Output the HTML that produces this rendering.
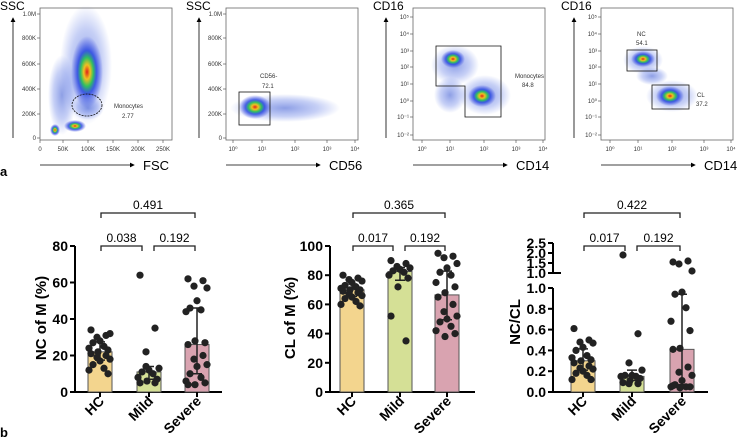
<!DOCTYPE html>
<html><head><meta charset="utf-8"><style>
body{margin:0;background:#fff;}
svg{display:block;font-family:"Liberation Sans",Arial,sans-serif;}
</style></head><body>
<svg id="fig" width="741" height="439" viewBox="0 0 741 439" xmlns="http://www.w3.org/2000/svg">
<defs>
<radialGradient id="dens" cx="50%" cy="50%" r="50%">
<stop offset="0" stop-color="#e0201a"/><stop offset="0.2" stop-color="#f0c020"/><stop offset="0.4" stop-color="#30c060"/><stop offset="0.6" stop-color="#2040e0" stop-opacity="0.8"/><stop offset="1" stop-color="#3040e0" stop-opacity="0"/>
</radialGradient>
<radialGradient id="sparse" cx="50%" cy="50%" r="50%">
<stop offset="0" stop-color="#3050d0" stop-opacity="0.55"/><stop offset="0.6" stop-color="#4060e0" stop-opacity="0.3"/><stop offset="1" stop-color="#4060e0" stop-opacity="0"/>
</radialGradient>
<marker id="arr" markerWidth="6" markerHeight="6" refX="5" refY="3" orient="auto"><path d="M0,0 L6,3 L0,6z" fill="#000"/></marker>
</defs>
<g id="topgrp" font-size="6" fill="#333"></g>
<g id="bottom"></g>
<text x="0" y="176" font-size="13" font-weight="bold">a</text>
<text x="0" y="437" font-size="13" font-weight="bold">b</text>
</svg>
<script>
// ---- bar chart data ----
const categories = ["HC","Mild","Severe"];
const ncHC = [34,31,30,32,28,27,25,24,23,22,21,20,19,18,17,15,13,12,10];
const ncMild = [64,35,22,13,12,11,10,8,7,6,5,5,14];
const ncSevere = [62,61,58,57,50,46,45,44,27,28,26,20,18,15,14,10,8,6,5,4,4];
const clHC = [80,78,77,76,75,73,72,71,70,70,69,68,67,66,65,64,62,60,59];
const clMild = [90,88,86,85,84,83,82,80,78,72,52,35];
const clSevere = [95,93,92,88,85,82,80,75,72,68,65,60,55,52,50,48,45,42,40,38];
const rHC = [0.61,0.50,0.48,0.47,0.43,0.40,0.35,0.33,0.31,0.30,0.28,0.25,0.23,0.22,0.20,0.18,0.16,0.12,0.12];
const rMild = [1.9,0.56,0.28,0.21,0.16,0.16,0.15,0.15,0.13,0.11,0.09,0.08,0.08];
const rSevere = [1.55,1.6,1.45,1.1,0.96,0.94,0.81,0.68,0.59,0.42,0.41,0.24,0.19,0.16,0.11,0.07,0.05,0.05,0.05,0.04,0.06];
const pNC = ["0.038","0.192","0.491"];
const pCL = ["0.017","0.192","0.365"];
const pR = ["0.017","0.192","0.422"];
const ticksNC = [0,20,40,60,80];
const ticksCL = [0,20,40,60,80,100];
const ticksR = [0,0.2,0.4,0.6,0.8,1.0];
const ticksRUp = [1.0,1.5,2.0,2.5];

const NS="http://www.w3.org/2000/svg";
function el(tag,attrs,parent,text){const e=document.createElementNS(NS,tag);for(const k in attrs)e.setAttribute(k,attrs[k]);if(text!==undefined)e.textContent=text;parent.appendChild(e);return e;}
const colors=["#f3d58e","#d5e096","#d9a3b0"];
const bottomG=document.getElementById('bottom');

function q(s,p){const i=(s.length-1)*p;const lo=Math.floor(i),hi=Math.ceil(i);return s[lo]+(s[hi]-s[lo])*(i-lo);}
function stats(a){const s=[...a].sort((x,y)=>x-y);return [q(s,0.5),q(s,0.25),q(s,0.75)];}

function barChart(o){
  const g=el('g',{},bottomG);
  
  
  const y=o.y;
  const ax=el('line',{x1:o.ax,x2:o.ax,y1:o.axTop,y2:392,stroke:'#000','stroke-width':2},g);
  
  
  const xa=el('line',{x1:o.ax,x2:o.axEnd,y1:392,y2:392,stroke:'#000','stroke-width':2},g);
  
  
  o.ticks.forEach(t=>{const ty=y(t);el('line',{x1:o.ax-5,x2:o.ax,y1:ty,y2:ty,stroke:'#000','stroke-width':2},g);
    const tl=el('text',{x:o.ax-7,y:ty+5,'text-anchor':'end','font-size':14,'font-weight':'bold'},g,o.fmt(t));
    
    });
  if(o.ticksUp){o.ticksUp.forEach(t=>{const ty=o.yUp(t);el('line',{x1:o.ax-5,x2:o.ax+(t==1?8:0),y1:ty,y2:ty,stroke:'#000','stroke-width':2},g);
    const tl=el('text',{x:o.ax-7,y:ty+5,'text-anchor':'end','font-size':14,'font-weight':'bold'},g,t.toFixed(1));
    
    });
    el('line',{x1:o.ax,x2:o.ax,y1:o.yUp(2.5),y2:o.yUp(1.0),stroke:'#000','stroke-width':2},g);}
  const yl=el('text',{transform:`translate(${o.ylx},${o.yly}) rotate(-90)`,'text-anchor':'middle','font-size':15,'font-weight':'bold'},g,o.ylabel);
  
  
  o.series.forEach((arr,i)=>{
    const cx=o.cx[i];const [m,lo,hi]=stats(arr);
    const b=el('rect',{x:cx-12,y:y(m),width:24,height:392-y(m),fill:colors[i],stroke:'#555','stroke-width':1},g);
    
    
    arr.forEach((v,j)=>{const off=[-9,6,-3,10,0,-7,4,-11,8,-2][j%10];const py=o.yAny(v);
      const d=el('circle',{cx:cx+off,cy:py,r:3.6,fill:'#222'},g);
      
      });
    const eb=el('path',{d:`M${cx},${o.yAny(lo)}V${o.yAny(hi)}M${cx-5},${o.yAny(hi)}H${cx+5}M${cx-5},${o.yAny(lo)}H${cx+5}`,stroke:'#222','stroke-width':1.5,fill:'none'},g);
    
    
    el('line',{x1:cx,x2:cx,y1:392,y2:397,stroke:'#000','stroke-width':2},g);
    const xl=el('text',{transform:`translate(${cx+5},${402}) rotate(-45)`,'text-anchor':'end','font-size':14,'font-weight':'bold'},g,categories[i]);
    
    
  });
  const br=[[o.cx[0]+1,o.cx[1]-7,246],[o.cx[1]+5,o.cx[2]-2,246],[o.cx[0]+1,o.cx[2]-2,213]];
  br.forEach((b,i)=>{const bg=el('path',{d:`M${b[0]},${b[2]+5}V${b[2]}H${b[1]}V${b[2]+5}`,stroke:'#222','stroke-width':1.3,fill:'none'},g);
    
    
    const t=el('text',{x:(b[0]+b[1])/2,y:b[2]-4,'text-anchor':'middle','font-size':12},g,o.p[i]);
    
    });
}
const yNC=v=>392-v*146/80;
barChart({name:'nc-of-m-chart',y:yNC,yAny:yNC,ax:75,axTop:246,axEnd:222,ticks:ticksNC,fmt:t=>String(t),ylabel:'NC of M (%)',ylx:46,yly:318,series:[ncHC,ncMild,ncSevere],cx:[100,149,197],p:pNC});
const yCL=v=>392-v*146/100;
barChart({name:'cl-of-m-chart',y:yCL,yAny:yCL,ax:330,axTop:246,axEnd:475,ticks:ticksCL,fmt:t=>String(t),ylabel:'CL of M (%)',ylx:295,yly:318,series:[clHC,clMild,clSevere],cx:[352,400,447],p:pCL});
const yR=v=>392-v*104;
const yRUp=v=>273-(v-1)*20;
barChart({name:'nc-cl-ratio-chart',y:yR,yUp:yRUp,yAny:v=>v>1.0?yRUp(v):yR(v),ax:553,axTop:288,axEnd:708,ticks:ticksR,ticksUp:ticksRUp,fmt:t=>t.toFixed(1),ylabel:'NC/CL',ylx:520,yly:322,series:[rHC,rMild,rSevere],cx:[583,632,682],p:pR});

// ---- flow plots ----
const topG=document.getElementById('topgrp');
function flow(o){
  const g=el('g',{},topG);
  
  
  const f=el('rect',{x:o.x,y:8,width:132,height:132,fill:'none',stroke:'#666','stroke-width':0.8},g);
  
  
  o.clouds.forEach(c=>{const e=el('ellipse',{cx:c[0],cy:c[1],rx:c[2],ry:c[3],fill:`url(#${c[4]})`},g);
    
    });
  o.yt.forEach(t=>{el('line',{x1:o.x-3,x2:o.x,y1:t[1],y2:t[1],stroke:'#444','stroke-width':0.6},g);
    el('text',{x:o.x-4,y:t[1]+2,'text-anchor':'end'},g,t[0]);});
  o.xt.forEach(t=>{el('line',{x1:t[1],x2:t[1],y1:140,y2:143,stroke:'#444','stroke-width':0.6},g);
    el('text',{x:t[1],y:151,'text-anchor':'middle'},g,t[0]);});
  const ay=el('line',{x1:o.x-27,x2:o.x-27,y1:138,y2:18,stroke:'#000','stroke-width':0.8,'marker-end':'url(#arr)'},g);
  
  
  const axr=el('line',{x1:o.x,x2:o.x+94,y1:165,y2:165,stroke:'#000','stroke-width':0.8,'marker-end':'url(#arr)'},g);
  
  
  const yl=el('text',{x:o.x-40,y:10,'font-size':12,fill:'#000'},g,o.yl);
  
  
  const xl=el('text',{x:o.x+103,y:170,'font-size':13,fill:'#000'},g,o.xl);
  
  
  (o.extra||[]).forEach(fn=>fn(g));
}
const linT=[["1.0M",14],["800K",38],["600K",64],["400K",89],["200K",114],["0",138]];
const logY=[["10⁵",17],["10⁴",34],["10³",51],["10²",67],["10¹",84],["10⁰",101],["10⁻¹",117],["10⁻²",135]];
flow({name:'fsc-ssc-plot',x:40,yl:'SSC',xl:'FSC',yt:linT,
  xt:[["0",40],["50K",63],["100K",88],["150K",113],["200K",138],["250K",163]],
  clouds:[[86,65,26,60,'sparse'],[87,72,16,36,'dens'],[62,95,14,40,'sparse'],[55,130,5,6,'dens'],[75,126,11,6,'dens'],[88,108,16,12,'sparse']],
  extra:[g=>{el('ellipse',{cx:87,cy:105,rx:15,ry:11,fill:'none',stroke:'#111','stroke-width':0.8,'stroke-dasharray':'2,1'},g);
    el('text',{x:114,y:108},g,'Monocytes');el('text',{x:122,y:118},g,'2.77');}]});
flow({name:'cd56-ssc-plot',x:226,yl:'SSC',xl:'CD56',yt:linT,
  xt:[["10⁰",233],["10¹",262],["10²",295],["10³",327],["10⁴",355]],
  clouds:[[285,108,55,14,'sparse'],[255,107,16,12,'dens']],
  extra:[g=>{const r=el('rect',{x:239,y:92,width:31,height:33,fill:'none',stroke:'#111','stroke-width':0.8},g);
    
    
    el('text',{x:260,y:78},g,'CD56-');el('text',{x:262,y:88},g,'72.1');}]});
const logX=x0=>[["10⁰",x0+9],["10¹",x0+37],["10²",x0+71],["10³",x0+103],["10⁴",x0+130]];
flow({name:'cd14-cd16-plot',x:413,yl:'CD16',xl:'CD14',yt:logY,xt:logX(413),
  clouds:[[455,65,24,20,'sparse'],[453,59,12,9,'dens'],[485,95,26,20,'sparse'],[450,95,16,18,'sparse'],[482,96,14,11,'dens']],
  extra:[g=>{const p=el('path',{d:'M436,46H501V117H465V86H436Z',fill:'none',stroke:'#111','stroke-width':0.8},g);
    
    
    el('text',{x:515,y:78},g,'Monocytes');el('text',{x:522,y:87},g,'84.8');}]});
flow({name:'nc-cl-plot',x:601,yl:'CD16',xl:'CD14',yt:logY,xt:logX(601),
  clouds:[[643,60,20,14,'sparse'],[643,59,12,8,'dens'],[672,96,26,16,'sparse'],[670,96,14,10,'dens'],[652,76,16,9,'sparse']],
  extra:[g=>{const a=el('rect',{x:627,y:50,width:30,height:21,fill:'none',stroke:'#111','stroke-width':0.8},g);
    
    
    const b=el('rect',{x:652,y:85,width:37,height:24,fill:'none',stroke:'#111','stroke-width':0.8},g);
    
    
    el('text',{x:637,y:36},g,'NC');el('text',{x:636,y:45},g,'54.1');
    el('text',{x:697,y:97},g,'CL');el('text',{x:696,y:106},g,'37.2');}]});
</script>
</body></html>
